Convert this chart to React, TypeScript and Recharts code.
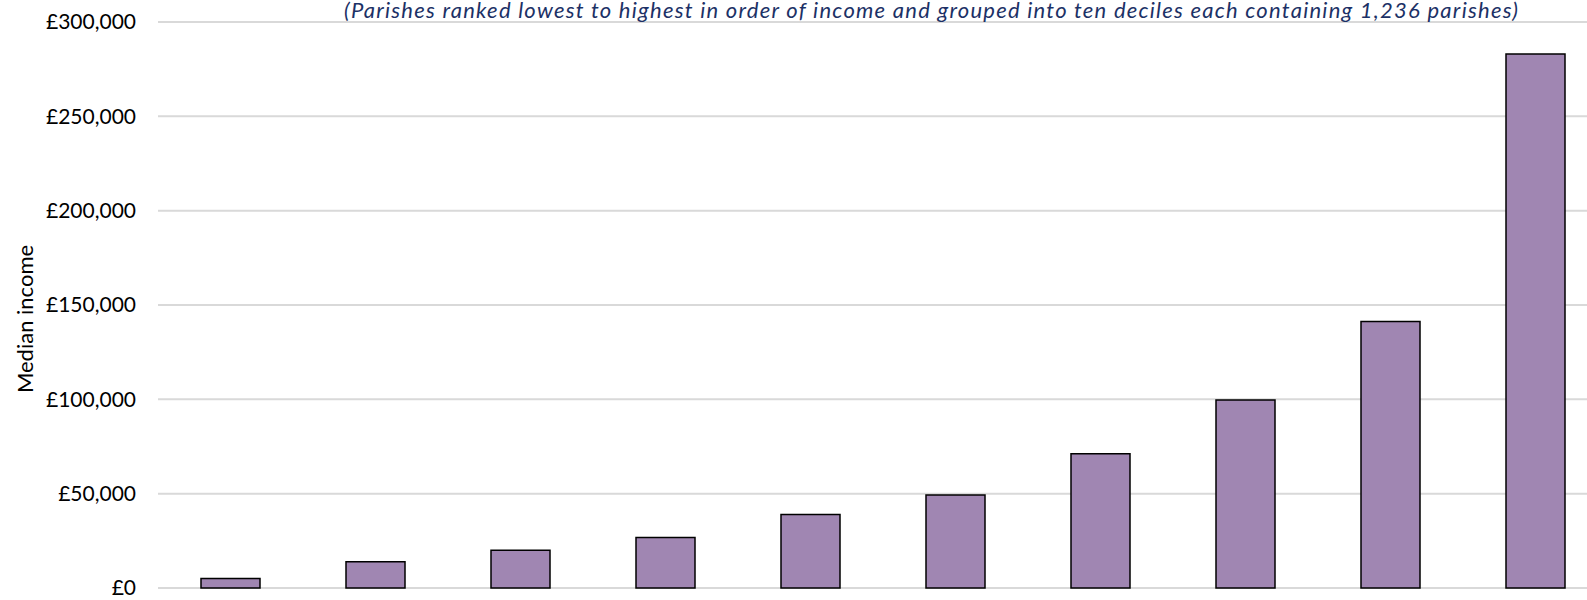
import { BarChart, Bar, XAxis, YAxis, CartesianGrid } from 'recharts';

// deciles, lowest to highest
const deciles = ['1', '2', '3', '4', '5', '6', '7', '8', '9', '10'];
const medianIncome = [5100, 13900, 20000, 26800, 38900, 49300, 71100, 99600, 141300, 283000];
const yTicks = [0, 50000, 100000, 150000, 200000, 250000, 300000];

const chartData = deciles.map((d, i) => ({ name: d, value: medianIncome[i] }));

const fmt = (v: number) => '£' + String(v).replace(/\B(?=(\d{3})+(?!\d))/g, ',');

const YLabel = () => (
  <text
    x={24}
    y={319}
    transform="rotate(-90, 24, 319)"
    textAnchor="middle"
    dominantBaseline="central"
    fontFamily="Lato"
    fontSize={22}
    fill="#000"
  >
    Median income
  </text>
);

export default function App() {
  return (
    <div style={{ position: 'absolute', left: 0, top: 0, width: 1587, height: 600, overflow: 'hidden', background: '#fff' }}>
      <div style={{ position: 'relative', width: 1610, height: 600 }}>
        <BarChart
          width={1610}
          height={600}
          data={chartData}
          margin={{ top: 22, right: 2, left: 0, bottom: 12 }}
        >
          <CartesianGrid vertical={false} stroke="#D9D9D9" strokeWidth={2} />
          <XAxis dataKey="name" hide />
          <YAxis
            width={158}
            domain={[0, 300000]}
            ticks={yTicks}
            tickFormatter={fmt}
            axisLine={false}
            tickLine={false}
            tickSize={0}
            tickMargin={22}
            interval={0}
            tick={{ fontFamily: 'Lato', fontSize: 21, fill: '#000' }}
            label={{ content: <YLabel /> }}
          />
          <Bar dataKey="value" fill="#A086B2" stroke="#000" strokeWidth={1.5} barSize={59} isAnimationActive={false} />
        </BarChart>
        <svg width={1610} height={30} style={{ position: 'absolute', left: 0, top: 0, overflow: 'visible' }}>
          <text
            x={931}
            y={18}
            textAnchor="middle"
            fontFamily="Lato"
            fontStyle="italic"
            fontSize={22}
            fill="#1C3166"
            textLength={1174}
            lengthAdjust="spacing"
          >
            (Parishes ranked lowest to highest in order of income and grouped into ten deciles each containing 1,236 parishes)
          </text>
        </svg>
      </div>
    </div>
  );
}
